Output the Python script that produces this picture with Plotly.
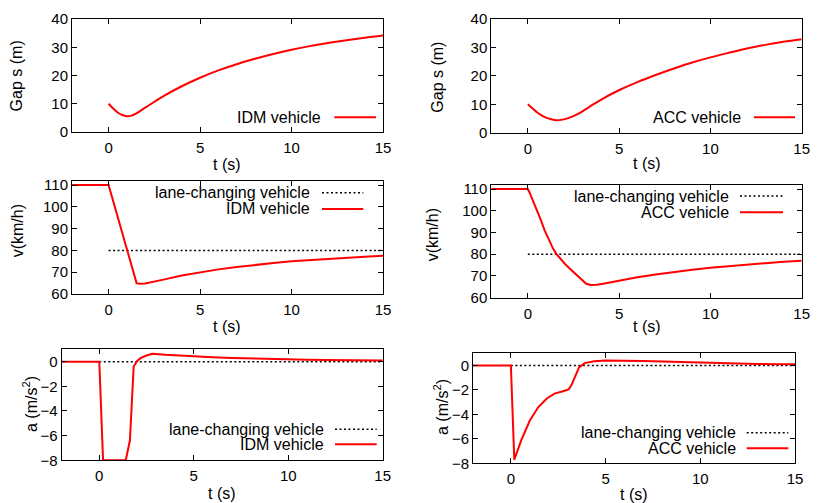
import plotly.graph_objects as go
from plotly.subplots import make_subplots

# gap s (m)
t_gap_idm = [0, 0.25, 0.5, 0.75, 1.0, 1.25, 1.55, 2, 2.5, 3, 4, 5, 6, 7, 8, 9, 10, 11, 12, 13, 14, 15]
gap_idm = [10, 8.3, 6.9, 6.0, 5.6, 5.8, 6.7, 8.6, 10.7, 12.7, 16.2, 19.2, 21.8, 24.0, 25.9, 27.6, 29.1, 30.4, 31.5, 32.5, 33.4, 34.2]
t_gap_acc = [0, 0.25, 0.5, 0.75, 1.0, 1.25, 1.56, 1.9, 2.29, 2.75, 3.2, 3.65, 4.12, 4.6, 5.04, 6, 7, 8, 9, 10, 11, 12, 13, 14, 15]
gap_acc = [10, 8.6, 7.2, 6.1, 5.3, 4.8, 4.4, 4.6, 5.3, 6.6, 8.4, 10.2, 12.0, 13.7, 15.1, 17.8, 20.3, 22.6, 24.7, 26.5, 28.1, 29.6, 30.9, 32.0, 32.9]

# speed v (km/h)
t_lc = [0, 15]
v_lc = [80, 80]
t_v_idm = [-2, 0, 1.53, 1.7, 2.0, 2.5, 3, 4, 5, 6, 7, 8, 9, 10, 11, 12, 13, 14, 15]
v_idm = [110, 110, 65, 64.7, 64.8, 65.6, 66.6, 68.5, 70.0, 71.3, 72.4, 73.4, 74.2, 75.0, 75.6, 76.2, 76.7, 77.1, 77.5]
t_v_acc = [-2, 0, 0.1, 0.25, 0.46, 0.7, 0.92, 1.15, 1.37, 1.56, 1.8, 2.05, 2.29, 2.6, 2.9, 3.2, 3.45, 3.8, 4.2,
           5, 6, 7, 8, 9, 10, 11, 12, 13, 14, 15]
v_acc = [110, 110, 108.3, 105.3, 101.1, 96.0, 91.0, 86.6, 82.8, 80.2, 77.6, 75.4, 73.4, 71.0, 68.7, 66.4, 65.9, 66.0, 66.5,
         67.9, 69.4, 70.7, 71.9, 72.9, 73.8, 74.6, 75.3, 75.9, 76.5, 77.0]

# acceleration a (m/s^2)
a_lc = [0, 0]
t_a_idm = [-2, 0, 0.2, 1.4, 1.62, 1.82, 2.0, 2.2, 2.5, 2.8, 3.5, 4, 5, 6, 7, 8, 9, 10, 11, 12, 13, 14, 15]
a_idm = [0, 0, -8, -8, -6.4, -0.4, 0.05, 0.3, 0.5, 0.63, 0.55, 0.5, 0.42, 0.35, 0.29, 0.24, 0.2, 0.17, 0.15, 0.13, 0.11, 0.1, 0.09]
t_a_acc = [-2, 0, 0.18, 0.55, 1.0, 1.45, 1.9, 2.3, 2.75, 3.05, 3.2, 3.4, 3.6, 3.9, 4.4, 5, 6, 7, 8, 9, 10, 11, 12, 13, 14, 15]
a_acc = [0, 0, -7.7, -6.1, -4.5, -3.4, -2.7, -2.3, -2.1, -1.95, -1.6, -0.8, -0.15, 0.2, 0.35, 0.41, 0.42, 0.38, 0.33, 0.28,
         0.23, 0.19, 0.16, 0.13, 0.11, 0.1]

# the page body has an 8px margin, so the figure is a bit smaller and all positions shift by 8px
OFF = 8
W, H = 830 - OFF, 503 - OFF
FONT = "Liberation Sans, Arial, Helvetica, sans-serif"
RED = dict(color="#ff0000", width=2)
DOT = dict(color="black", width=1.5, dash="2px,2.5px")


def px(x):
    return (x - OFF) / W


def py(y):
    return 1 - (y - OFF) / H


# plot boxes in screen pixels: left, right, top, bottom
boxes = {
    (1, 1): (72, 383, 19, 132),
    (1, 2): (491.3, 801.7, 19, 132.7),
    (2, 1): (72, 383, 180.7, 294),
    (2, 2): (491.3, 801.7, 184.7, 297.7),
    (3, 1): (61.5, 382.7, 349.3, 460.3),
    (3, 2): (473, 795, 353.3, 463.3),
}

fig = make_subplots(rows=3, cols=2)

fig.add_trace(go.Scatter(x=t_gap_idm, y=gap_idm, mode="lines", line=RED, line_shape="spline"), 1, 1)
fig.add_trace(go.Scatter(x=t_gap_acc, y=gap_acc, mode="lines", line=RED, line_shape="spline"), 1, 2)
fig.add_trace(go.Scatter(x=t_lc, y=v_lc, mode="lines", line=DOT), 2, 1)
fig.add_trace(go.Scatter(x=t_v_idm, y=v_idm, mode="lines", line=RED), 2, 1)
fig.add_trace(go.Scatter(x=t_lc, y=v_lc, mode="lines", line=DOT), 2, 2)
fig.add_trace(go.Scatter(x=t_v_acc, y=v_acc, mode="lines", line=RED), 2, 2)
fig.add_trace(go.Scatter(x=t_lc, y=a_lc, mode="lines", line=DOT), 3, 1)
fig.add_trace(go.Scatter(x=t_a_idm, y=a_idm, mode="lines", line=RED), 3, 1)
fig.add_trace(go.Scatter(x=t_lc, y=a_lc, mode="lines", line=DOT), 3, 2)
fig.add_trace(go.Scatter(x=t_a_acc, y=a_acc, mode="lines", line=RED), 3, 2)

yset = {
    1: dict(range=[0, 40], tickvals=[0, 10, 20, 30, 40]),
    2: dict(range=[60, 112], tickvals=[60, 70, 80, 90, 100, 110]),
    3: dict(range=[-8, 1], tickvals=[-8, -6, -4, -2, 0]),
}

axis_common = dict(showline=True, linecolor="black", linewidth=1, mirror="allticks",
                   ticks="inside", ticklen=5, tickcolor="black", showgrid=False, zeroline=False,
                   automargin=False, tickfont=dict(size=15, color="black", family=FONT))

for (r, c), (l, rr, tp, bt) in boxes.items():
    fig.update_xaxes(row=r, col=c, domain=[px(l), px(rr)], range=[-2, 15], tickvals=[0, 5, 10, 15],
                     ticklabelstandoff=2, **axis_common)
    ys = yset[r]
    fig.update_yaxes(row=r, col=c, domain=[py(bt), py(tp)], range=ys["range"], tickvals=ys["tickvals"],
                     **axis_common)

# axis titles (screen pixel positions of their centres)
titles = [
    ("Gap s (m)", 16.7, 75.7, -90), ("Gap s (m)", 436.7, 77, -90),
    ("v(km/h)", 17.3, 231, -90), ("v(km/h)", 432.3, 235, -90),
    ("a (m/s<sup>2</sup>)", 30, 404, -90), ("a (m/s<sup>2</sup>)", 441, 407, -90),
    ("t (s)", 227.5, 164.5, 0), ("t (s)", 646.5, 163.5, 0),
    ("t (s)", 227.5, 326.7, 0), ("t (s)", 646.5, 326.7, 0),
    ("t (s)", 222, 493, 0), ("t (s)", 634, 494, 0),
]
for txt, x, y, ang in titles:
    fig.add_annotation(text=txt, x=px(x), y=py(y), xref="paper", yref="paper", xanchor="center",
                       yanchor="middle", textangle=ang, showarrow=False,
                       font=dict(size=16, color="black", family=FONT))

# key entries: text right-aligned, sample line to the right (gnuplot style)
keys = [
    # (text, text right x, y, line x0, line x1, style)
    ("IDM vehicle", 323, 117.3, 334.3, 376, RED),
    ("ACC vehicle", 743, 117.3, 754, 795, RED),
    ("lane-changing vehicle", 312, 192.7, 322, 363.3, DOT),
    ("IDM vehicle", 312, 209, 322, 363.3, RED),
    ("lane-changing vehicle", 731, 196, 740, 783, DOT),
    ("ACC vehicle", 731, 212.3, 740, 783, RED),
    ("lane-changing vehicle", 326, 429.3, 335, 376.7, DOT),
    ("IDM vehicle", 326, 444.3, 335, 376.7, RED),
    ("lane-changing vehicle", 737.7, 432.7, 746.7, 788.3, DOT),
    ("ACC vehicle", 737.7, 448.3, 746.7, 788.3, RED),
]
for txt, xr, yc, x0, x1, st in keys:
    fig.add_annotation(text=txt, x=px(xr), y=py(yc), xref="paper", yref="paper", xanchor="right",
                       yanchor="middle", showarrow=False, font=dict(size=16, color="black", family=FONT))
    fig.add_shape(type="line", x0=px(x0), x1=px(x1), y0=py(yc), y1=py(yc), xref="paper", yref="paper",
                  line=st)

fig.update_layout(width=W, height=H, margin=dict(l=0, r=0, t=0, b=0), showlegend=False,
                  plot_bgcolor="white", paper_bgcolor="white", font=dict(family=FONT, color="black"))

fig.write_html("out.html")
